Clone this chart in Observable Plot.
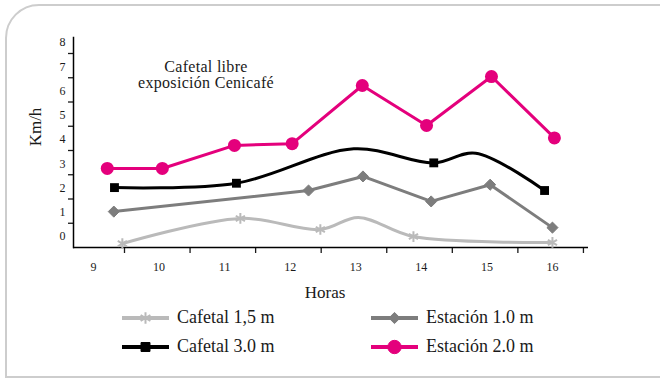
<!DOCTYPE html>
<html><head><meta charset="utf-8">
<script src="https://cdn.jsdelivr.net/npm/d3@7"></script>
<script src="https://cdn.jsdelivr.net/npm/@observablehq/plot@0.6"></script>
<style>
html,body{margin:0;padding:0;background:#fff;overflow:hidden;}
#wrap{position:relative;width:660px;height:382px;overflow:hidden;font-family:"Liberation Serif",serif;color:#1a1a1a;}
#box{position:absolute;left:5px;top:4px;width:720px;height:374px;border:2px solid #cdcdcd;border-top-left-radius:34px;box-sizing:border-box;}
#chart{position:absolute;left:0;top:0;}
.txt{position:absolute;white-space:nowrap;line-height:1;}
#note{left:206px;top:59px;transform:translateX(-50%);text-align:center;font-size:16px;line-height:16px;letter-spacing:0.3px;}
#ylab{left:35px;top:127px;transform:translate(-50%,-50%) rotate(-90deg);font-size:17px;}
#xlab{left:325px;top:292px;transform:translate(-50%,-50%);font-size:17px;}
#legend{position:absolute;left:122px;top:303px;display:grid;grid-template-columns:249px auto;grid-auto-rows:29px;}
.item{display:flex;align-items:center;font-size:18px;}
.item svg{margin-right:8px;}
</style>
</head><body>
<div id="wrap">
  <div id="box"></div>
  <div id="chart"></div>
  <div class="txt" id="note">Cafetal libre<br>exposición Cenicafé</div>
  <div class="txt" id="ylab">Km/h</div>
  <div class="txt" id="xlab">Horas</div>
  <div id="legend"></div>
</div>
<script>
// ---- data ----
const horas = [9, 10, 11, 12, 13, 14, 15, 16];
const yTicks = [0, 1, 2, 3, 4, 5, 6, 7, 8];

// Cafetal 1,5 m (light grey, smooth line; medido = marker shown)
const caf15Hora   = [9.44, 11.24, 12.46, 13.04, 13.88, 16.0];
const caf15Valor  = [0.16, 1.20, 0.74, 1.24, 0.45, 0.21];
const caf15Medido = [1, 1, 1, 0, 1, 1];

// Cafetal 3.0 m (black, smooth line)
const caf30Hora   = [9.32, 11.18, 12.97, 14.19, 14.83, 15.88];
const caf30Valor  = [2.47, 2.65, 4.07, 3.49, 3.89, 2.35];
const caf30Medido = [1, 1, 0, 1, 0, 1];

// Estación 1.0 m (dark grey)
const est10Hora  = [9.31, 12.28, 13.11, 14.15, 15.05, 16.0];
const est10Valor = [1.48, 2.35, 2.93, 1.90, 2.59, 0.82];

// Estación 2.0 m (magenta)
const est20Hora  = [9.21, 10.05, 11.15, 12.03, 13.10, 14.08, 15.07, 16.03];
const est20Valor = [3.26, 3.26, 4.21, 4.28, 6.68, 5.03, 7.05, 4.52];

const names = ["Cafetal 1,5 m", "Cafetal 3.0 m", "Estación 1.0 m", "Estación 2.0 m"];

// ---- build tables ----
const toRows = (h, v, m) => h.map((x, i) => ({hora: x, valor: v[i], medido: m ? !!m[i] : true}));
const caf15 = toRows(caf15Hora, caf15Valor, caf15Medido);
const caf30 = toRows(caf30Hora, caf30Valor, caf30Medido);
const est10 = toRows(est10Hora, est10Valor);
const est20 = toRows(est20Hora, est20Valor);

const C = {light: "#bababa", black: "#000000", dark: "#7d7d7d", pink: "#e4007c"};

const chart = Plot.plot({
  width: 660, height: 300,
  marginTop: 37, marginBottom: 53, marginLeft: 73, marginRight: 72,
  style: {fontFamily: '"Liberation Serif", serif', fontSize: "12px", color: "#1a1a1a", background: "transparent", overflow: "visible"},
  x: {domain: [8.695, 16.55]},
  y: {domain: [0, 8.66]},
  marks: [
    Plot.axisY(yTicks, {tickSize: 0, tickPadding: 8, dy: -11, label: null}),
    Plot.axisY(yTicks.slice(1), {tickSize: 5, tickFormat: () => "", label: null, strokeWidth: 1.3}),
    Plot.axisX(horas, {tickSize: 0, tickPadding: 15, label: null}),
    Plot.axisX(horas, {tickSize: 6, dx: 31, tickFormat: () => "", label: null, strokeWidth: 1.3}),
    Plot.frame({anchor: "left", stroke: "#000", strokeWidth: 1.5}),
    Plot.ruleY([0], {stroke: "#000", strokeWidth: 1.5}),

    Plot.line(caf15, {x: "hora", y: "valor", stroke: C.light, strokeWidth: 3, curve: "catmull-rom"}),
    Plot.dot(caf15.filter(d => d.medido), {x: "hora", y: "valor", symbol: "asterisk", stroke: C.light, r: 5, strokeWidth: 2}),

    Plot.line(est10, {x: "hora", y: "valor", stroke: C.dark, strokeWidth: 3}),
    Plot.dot(est10, {x: "hora", y: "valor", symbol: "diamond2", fill: C.dark, stroke: C.dark, r: 5, strokeWidth: 1}),

    Plot.line(caf30, {x: "hora", y: "valor", stroke: C.black, strokeWidth: 3, curve: "catmull-rom"}),
    Plot.dot(caf30.filter(d => d.medido), {x: "hora", y: "valor", symbol: "square", fill: C.black, r: 5}),

    Plot.line(est20, {x: "hora", y: "valor", stroke: C.pink, strokeWidth: 3}),
    Plot.dot(est20, {x: "hora", y: "valor", symbol: "circle", fill: C.pink, r: 6.5})
  ]
});
document.getElementById("chart").appendChild(chart);

// ---- legend ----
const legendItems = [
  {name: names[0], color: C.light, sym: d3.symbolAsterisk, fill: "none", size: 90},
  {name: names[2], color: C.dark, sym: d3.symbolDiamond2, fill: C.dark, size: 80},
  {name: names[1], color: C.black, sym: d3.symbolSquare, fill: C.black, size: 80},
  {name: names[3], color: C.pink, sym: d3.symbolCircle, fill: C.pink, size: 140}
];
const leg = d3.select("#legend");
legendItems.forEach(it => {
  const row = leg.append("div").attr("class", "item");
  const s = row.append("svg").attr("width", 47).attr("height", 16);
  s.append("line").attr("x1", 0).attr("x2", 47).attr("y1", 8).attr("y2", 8)
    .attr("stroke", it.color).attr("stroke-width", 4);
  s.append("path").attr("transform", "translate(23.5,8)")
    .attr("d", d3.symbol(it.sym, it.size)())
    .attr("fill", it.fill).attr("stroke", it.color).attr("stroke-width", it.fill === "none" ? 2 : 1);
  row.append("span").text(it.name);
});
</script>
</body></html>
